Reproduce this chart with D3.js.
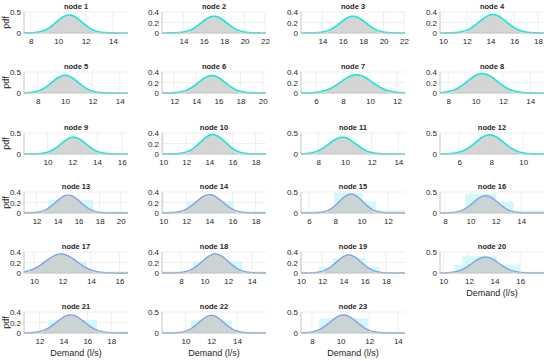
<!DOCTYPE html>
<html>
<head>
<meta charset="utf-8">
<script src="https://cdn.jsdelivr.net/npm/d3@7"></script>
<style>
  body { margin: 0; background: #fff; }
  text { font-family: "Liberation Sans", Arial, sans-serif; fill: #262626; }
  .grid line { stroke: #ebebeb; stroke-width: 0.8; }
  .axis path, .axis line { stroke: #c4c4c4; }
</style>
</head>
<body>
<script>
/** 数据：每个节点的需求分布（均值、标准差）、坐标范围与刻度 */
var nodeNames = d3.range(1, 24).map(function (i) { return "node " + i; });

var means = [10.8, 17.0, 17.0, 14.2, 10.0, 15.4, 9.0, 10.5, 12.1, 14.3, 9.8, 7.9,
             15.0, 14.0, 9.2, 11.2, 11.9, 10.9, 14.5, 13.3, 14.6, 12.0, 10.2];
var sds   = [0.93, 1.25, 1.25, 1.14, 0.95, 1.2, 1.15, 1.08, 1.0, 1.08, 1.0, 0.88,
             1.17, 1.14, 0.89, 0.97, 1.1, 1.1, 1.16, 1.05, 1.16, 0.95, 0.93];

var xDomains = [[7.5, 15.1], [11.9, 22.1], [11.9, 22.1], [9.75, 18.5],
                [7.0, 14.6], [10.9, 20.3], [4.9, 12.6], [7.4, 15.0],
                [8.1, 16.5], [9.9, 18.9], [6.7, 14.5], [4.8, 11.3],
                [10.8, 20.7], [9.9, 18.9], [5.4, 13.3], [7.6, 15.8],
                [9.3, 16.6], [6.4, 15.2], [10.0, 19.8], [9.75, 17.85],
                [10.7, 19.4], [8.17, 16.25], [7.23, 14.5]];

var xTicks = [[8, 10, 12, 14], [14, 16, 18, 20, 22], [14, 16, 18, 20, 22], [10, 12, 14, 16, 18],
              [8, 10, 12, 14], [12, 14, 16, 18, 20], [6, 8, 10, 12], [8, 10, 12, 14],
              [10, 12, 14, 16], [10, 12, 14, 16, 18], [8, 10, 12, 14], [6, 8, 10],
              [12, 14, 16, 18, 20], [10, 12, 14, 16, 18], [6, 8, 10, 12], [8, 10, 12, 14],
              [10, 12, 14, 16], [8, 10, 12, 14], [10, 12, 14, 16, 18], [10, 12, 14, 16],
              [12, 14, 16, 18], [10, 12, 14], [8, 10, 12, 14]];

var yTicks = [[0, 0.5], [0, 0.2, 0.4], [0, 0.2, 0.4], [0, 0.2, 0.4],
              [0, 0.5], [0, 0.2, 0.4], [0, 0.2, 0.4], [0, 0.2, 0.4],
              [0, 0.5], [0, 0.2, 0.4], [0, 0.5], [0, 0.5],
              [0, 0.2, 0.4], [0, 0.2, 0.4], [0, 0.5], [0, 0.5],
              [0, 0.2, 0.4], [0, 0.2, 0.4], [0, 0.2, 0.4], [0, 0.5],
              [0, 0.2, 0.4], [0, 0.5], [0, 0.5]];

// 节点13-23的粗直方图 [起点, 终点, 高度]
var coarseBins = [
  [[10.8, 13.1, .03], [13.1, 17.4, .25], [17.4, 20.7, .03]],
  [[9.9, 12.0, .03], [12.0, 16.1, .23], [16.1, 18.9, .03]],
  [[5.4, 7.9, .05], [7.9, 10.1, .48], [10.1, 11.1, .28], [11.1, 13.3, .06]],
  [[7.6, 9.6, .03], [9.6, 12.0, .46], [12.0, 13.4, .27], [13.4, 15.8, .06]],
  [[9.3, 10.5, .03], [10.5, 13.7, .22], [13.7, 16.6, .03]],
  [[6.4, 9.0, .03], [9.0, 13.2, .22], [13.2, 15.2, .03]],
  [[10.0, 11.7, .02], [11.7, 13.0, .12], [13.0, 16.1, .28], [16.1, 17.4, .12], [17.4, 19.8, .02]],
  [[9.75, 10.9, .03], [10.9, 11.5, .2], [11.5, 14.2, .4], [14.2, 16.0, .2], [16.0, 17.85, .03]],
  [[10.7, 12.75, .03], [12.75, 16.8, .25], [16.8, 19.4, .03]],
  [[8.17, 10.4, .03], [10.4, 13.6, .3], [13.6, 16.25, .03]],
  [[7.23, 8.5, .03], [8.5, 11.9, .35], [11.9, 14.5, .03]]
];

/** 布局 */
var colLeft = [24, 162, 301, 440],
    rowBottom = [33, 93, 154, 213, 273, 333],
    plotW = 104,
    plotH = 21;

var svg = d3.select("body").append("svg")
    .attr("width", 550)
    .attr("height", 361);

function pdf(x, m, s) {
    return Math.exp(-0.5 * Math.pow((x - m) / s, 2)) / (s * Math.sqrt(2 * Math.PI));
}

nodeNames.forEach(function (name, i) {
    var row = Math.floor(i / 4), col = i % 4;
    var m = means[i], s = sds[i];
    var yMax = yTicks[i][yTicks[i].length - 1];

    var x = d3.scaleLinear().domain(xDomains[i]).range([0, plotW]);
    var y = d3.scaleLinear().domain([0, yMax]).range([plotH, 0]);

    var g = svg.append("g")
        .attr("transform", "translate(" + colLeft[col] + "," + (rowBottom[row] - plotH) + ")");

    //网格
    var grid = g.append("g").attr("class", "grid");
    grid.selectAll(".vx").data(xTicks[i]).enter().append("line")
        .attr("x1", x).attr("x2", x).attr("y1", 0).attr("y2", plotH);
    grid.selectAll(".hy").data(yTicks[i]).enter().append("line")
        .attr("x1", 0).attr("x2", plotW).attr("y1", y).attr("y2", y);

    var c = g.append("g");
    //粗直方图（节点13以后）
    if (i >= 12) {
        c.selectAll("rect").data(coarseBins[i - 12]).enter().append("rect")
            .attr("x", function (d) { return x(d[0]); })
            .attr("width", function (d) { return x(d[1]) - x(d[0]); })
            .attr("y", function (d) { return y(d[2]); })
            .attr("height", function (d) { return plotH - y(d[2]); })
            .attr("fill", "#d3f8f7");
    }

    //灰色区域
    var xs = d3.range(xDomains[i][0], xDomains[i][1], (xDomains[i][1] - xDomains[i][0]) / 150)
        .concat([xDomains[i][1]]);
    var inner = xs.filter(function (v) { return v >= m - 2 * s && v <= m + 2 * s; });
    c.append("path").datum(inner)
        .attr("fill", i >= 12 ? "#c9cfcf" : "#d0d0d0")
        .attr("fill-opacity", 0.9)
        .attr("d", d3.area().x(function (v) { return x(v); }).y0(plotH)
            .y1(function (v) { return y(pdf(v, m, s) * 0.97); }));

    //pdf曲线
    c.append("path").datum(xs)
        .attr("fill", "none")
        .attr("stroke", i >= 12 ? "#7fa2e2" : "#1fe6d6")
        .attr("stroke-width", i >= 12 ? 1.4 : 1.7)
        .attr("d", d3.line().x(function (v) { return x(v); })
            .y(function (v) { return y(pdf(v, m, s)); }));

    //坐标轴
    var xAxis = d3.axisBottom(x).tickValues(xTicks[i]).tickSize(0).tickPadding(5)
        .tickFormat(d3.format("d"));
    var yAxis = d3.axisLeft(y).tickValues(yTicks[i]).tickSize(0).tickPadding(3)
        .tickFormat(function (d) { return d === 0 ? "0" : d3.format(".1f")(d); });

    g.append("g").attr("class", "x axis")
        .attr("transform", "translate(0," + plotH + ")")
        .call(xAxis)
        .call(function (a) { a.select(".domain").attr("d", "M0,0H" + plotW); })
        .selectAll("text").style("font-size", "8px").style("font-family", null);
    g.append("g").attr("class", "y axis")
        .call(yAxis)
        .call(function (a) { a.select(".domain").attr("d", "M0,0V" + plotH); })
        .selectAll("text").style("font-size", "8px").style("font-family", null);

    g.append("text")
        .attr("x", plotW / 2).attr("y", -3)
        .attr("text-anchor", "middle")
        .style("font-size", "7.5px").style("font-weight", "bold")
        .text(name);

    if (col === 0 && row !== 4) {
        g.append("text")
            .attr("transform", "translate(-15," + (plotH / 2) + ") rotate(-90)")
            .attr("text-anchor", "middle")
            .style("font-size", "9px")
            .text("pdf");
    }
    if (i >= 19) {
        g.append("text")
            .attr("x", plotW / 2).attr("y", plotH + 23)
            .attr("text-anchor", "middle")
            .style("font-size", "9px")
            .text("Demand (l/s)");
    }
});
</script>
</body>
</html>
